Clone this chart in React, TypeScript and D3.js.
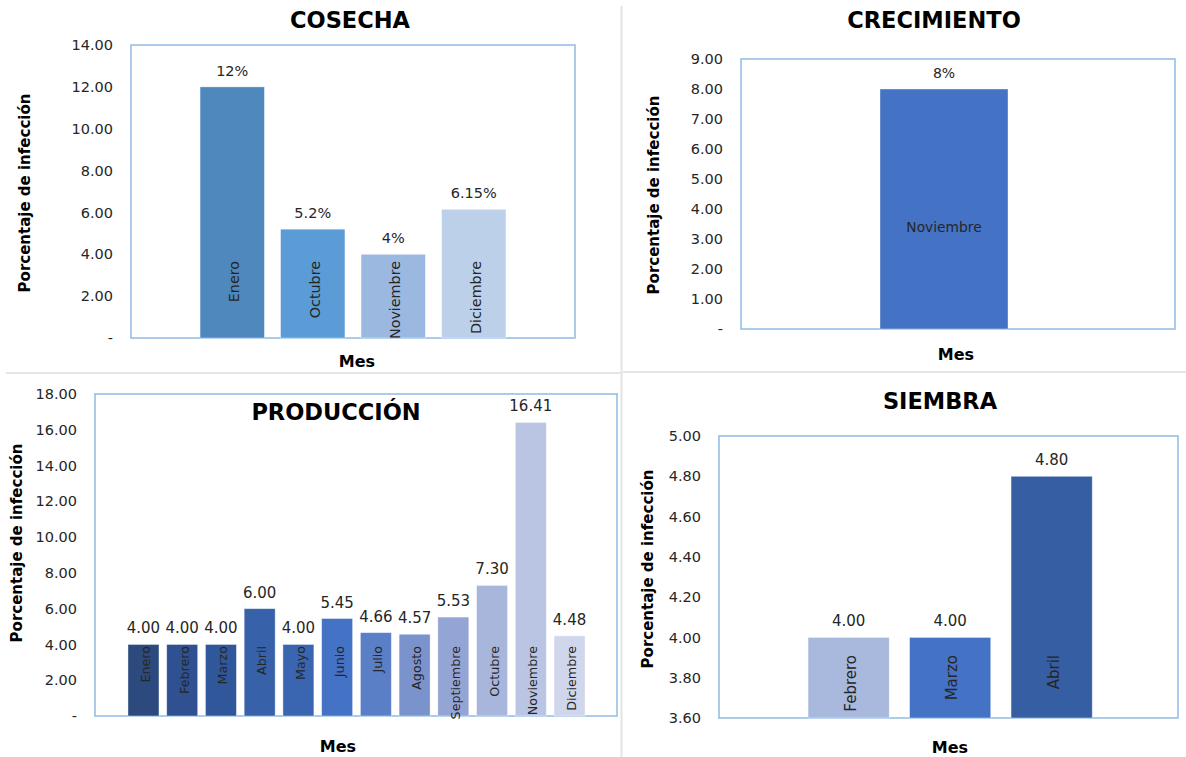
import * as d3 from 'd3'

// ---- data ----
const cosechaMeses = ['Enero', 'Octubre', 'Noviembre', 'Diciembre']
const cosechaValores = [12, 5.2, 4, 6.15]
const cosechaEtiquetas = ['12%', '5.2%', '4%', '6.15%']
const cosechaColores = ['#4f88bd', '#5b9bd6', '#9bb9e0', '#bdd0ea']
const cosechaTicks = [0, 2, 4, 6, 8, 10, 12, 14]

const crecimientoMeses = ['Noviembre']
const crecimientoValores = [8]
const crecimientoEtiquetas = ['8%']
const crecimientoColores = ['#4472c4']
const crecimientoTicks = [0, 1, 2, 3, 4, 5, 6, 7, 8, 9]

const produccionMeses = [
  'Enero', 'Febrero', 'Marzo', 'Abril', 'Mayo', 'Junio',
  'Julio', 'Agosto', 'Septiembre', 'Octubre', 'Noviembre', 'Diciembre',
]
const produccionValores = [4.0, 4.0, 4.0, 6.0, 4.0, 5.45, 4.66, 4.57, 5.53, 7.3, 16.41, 4.48]
const produccionColores = [
  '#2c4a7d', '#2f5191', '#31579b', '#3761a8', '#3a66b1', '#4472c4',
  '#5a7fc7', '#7b93cc', '#94a5d5', '#a9b6dc', '#bac4e3', '#d0d6eb',
]
const produccionTicks = [0, 2, 4, 6, 8, 10, 12, 14, 16, 18]

const siembraMeses = ['Febrero', 'Marzo', 'Abril']
const siembraValores = [4.0, 4.0, 4.8]
const siembraColores = ['#a9b8dd', '#4472c4', '#365ea2']
const siembraTicks = [3.6, 3.8, 4.0, 4.2, 4.4, 4.6, 4.8, 5.0]

const FONT = '"DejaVu Sans", sans-serif'
const TEXT = '#262626'
const BORDER = '#8fbbe6'

type Box = { x0: number; y0: number; x1: number; y1: number }

function fmtTick(v: number, min: number) {
  if (v === 0 && min === 0) return '-'
  return v.toFixed(2)
}

function Panel({
  title,
  titleX,
  titleY,
  box,
  bandRange,
  outer = 0.1,
  meses,
  valores,
  etiquetas,
  colores,
  ticks,
  yTitleX,
  yTitleY,
  mesX,
  mesY,
  labelTop,
  labelSize = 13,
  valueSize = 14,
  horizontalLabel,
}: {
  title: string
  titleX: number
  titleY: number
  box: Box
  bandRange: [number, number]
  outer?: number
  meses: string[]
  valores: number[]
  etiquetas: string[]
  colores: string[]
  ticks: number[]
  yTitleX: number
  yTitleY: number
  mesX: number
  mesY: number
  labelTop: number
  labelSize?: number
  valueSize?: number
  horizontalLabel?: boolean
}) {
  const yMin = ticks[0]
  const yMax = ticks[ticks.length - 1]
  const y = d3.scaleLinear().domain([yMin, yMax]).range([box.y1, box.y0])
  const x = d3.scaleBand<string>().domain(meses).range(bandRange).paddingInner(0.2).paddingOuter(outer)
  const bw = x.bandwidth()

  return (
    <g>
      <text
        x={titleX}
        y={titleY}
        textAnchor="middle"
        fontFamily={FONT}
        fontWeight={700}
        fontSize={22.5}
        fill="#000"
      >
        {title}
      </text>
      <rect
        x={box.x0}
        y={box.y0}
        width={box.x1 - box.x0}
        height={box.y1 - box.y0}
        fill="none"
        stroke={BORDER}
        strokeWidth={1.5}
      />
      {ticks.map((t) => (
        <text
          key={t}
          x={box.x0 - 18}
          y={y(t)}
          dy="0.35em"
          textAnchor="end"
          fontFamily={FONT}
          fontSize={14.5}
          fill={TEXT}
        >
          {fmtTick(t, yMin)}
        </text>
      ))}
      {meses.map((m, i) => {
        const bx = x(m)!
        const top = y(valores[i])
        const cx = bx + bw / 2
        return (
          <g key={m}>
            <rect
              x={bx}
              y={top}
              width={bw}
              height={box.y1 - top}
              fill={colores[i]}
              stroke="#ffffff"
              strokeOpacity={0.5}
              strokeWidth={0.8}
            />
            <text
              x={cx}
              y={top - 11}
              textAnchor="middle"
              fontFamily={FONT}
              fontSize={valueSize}
              fill={TEXT}
            >
              {etiquetas[i]}
            </text>
            {horizontalLabel ? (
              <text
                x={cx}
                y={labelTop}
                dy="0.35em"
                textAnchor="middle"
                fontFamily={FONT}
                fontSize={labelSize}
                fill={TEXT}
              >
                {m}
              </text>
            ) : (
              <text
                transform={`translate(${cx + 2},${labelTop}) rotate(-90)`}
                dy="0.35em"
                textAnchor="end"
                fontFamily={FONT}
                fontSize={labelSize}
                fill={TEXT}
              >
                {m}
              </text>
            )}
          </g>
        )
      })}
      <text
        transform={`translate(${yTitleX},${yTitleY}) rotate(-90)`}
        dy="0.35em"
        textAnchor="middle"
        fontFamily={FONT}
        fontWeight={700}
        fontSize={15}
        fill="#000"
      >
        Porcentaje de infección
      </text>
      <text
        x={mesX}
        y={mesY}
        dy="0.35em"
        textAnchor="middle"
        fontFamily={FONT}
        fontWeight={700}
        fontSize={16}
        fill="#000"
      >
        Mes
      </text>
    </g>
  )
}

export default function App() {
  const fmt2 = (v: number) => v.toFixed(2)
  return (
    <svg
      width={1186}
      height={757}
      style={{ position: 'absolute', left: 0, top: 0, background: '#fff' }}
    >
      <rect x={0} y={0} width={1186} height={757} fill="#fff" />
      {/* dividers */}
      <line x1={6} x2={621} y1={373} y2={373} stroke="#dcdcdc" strokeWidth={1.5} />
      <line x1={623} x2={1186} y1={372} y2={372} stroke="#dcdcdc" strokeWidth={1.5} />
      <line x1={621.5} x2={621.5} y1={6} y2={757} stroke="#e3e3e3" strokeWidth={2} />

      <Panel
        title="COSECHA"
        titleX={350}
        titleY={28}
        box={{ x0: 131, y0: 45, x1: 575, y1: 338 }}
        bandRange={[192, 514]}
        meses={cosechaMeses}
        valores={cosechaValores}
        etiquetas={cosechaEtiquetas}
        colores={cosechaColores}
        ticks={cosechaTicks}
        yTitleX={25}
        yTitleY={193}
        mesX={357}
        mesY={361}
        labelTop={261}
        labelSize={14.3}
        valueSize={14.5}
      />
      <Panel
        title="CRECIMIENTO"
        titleX={934}
        titleY={28}
        box={{ x0: 741, y0: 59, x1: 1175, y1: 329 }}
        bandRange={[864, 1024]}
        meses={crecimientoMeses}
        valores={crecimientoValores}
        etiquetas={crecimientoEtiquetas}
        colores={crecimientoColores}
        ticks={crecimientoTicks}
        yTitleX={654}
        yTitleY={195}
        mesX={956}
        mesY={354}
        labelTop={227}
        labelSize={13.8}
        horizontalLabel
      />
      <Panel
        title="PRODUCCIÓN"
        titleX={336}
        titleY={420}
        box={{ x0: 95, y0: 394, x1: 617, y1: 716 }}
        bandRange={[124.1, 588.9]}
        meses={produccionMeses}
        valores={produccionValores}
        etiquetas={produccionValores.map(fmt2)}
        colores={produccionColores}
        ticks={produccionTicks}
        yTitleX={17}
        yTitleY={543}
        mesX={338}
        mesY={746}
        labelTop={646}
        labelSize={12.7}
        valueSize={15}
      />
      <Panel
        title="SIEMBRA"
        titleX={940}
        titleY={409}
        box={{ x0: 719, y0: 436, x1: 1178, y1: 718 }}
        bandRange={[797.9, 1102.4]}
        meses={siembraMeses}
        valores={siembraValores}
        etiquetas={siembraValores.map(fmt2)}
        colores={siembraColores}
        ticks={siembraTicks}
        yTitleX={648}
        yTitleY={569}
        mesX={950}
        mesY={747}
        labelTop={655}
        labelSize={15}
        valueSize={15}
      />
    </svg>
  )
}
